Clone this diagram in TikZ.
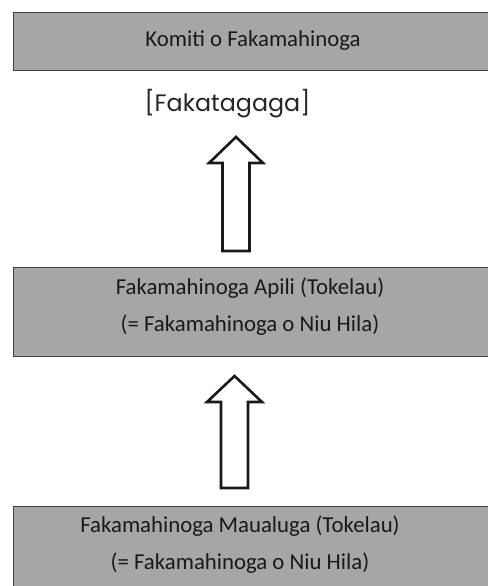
\documentclass[tikz,border=0pt]{standalone}
\usepackage{fontspec}
\setmainfont{Carlito}
\newfontfamily\geofont{Poppins}
\begin{document}
\begin{tikzpicture}[x=1pt,y=-1pt,
  box/.style={draw=black!75,line width=0.8pt,fill=black!35,inner sep=0pt},
  blockarrow/.style={draw=black!90,line width=2.6pt,fill=white,line join=miter},
  lbl/.style={font=\fontsize{22.8}{37}\selectfont,align=center,text=black!90}]
\useasboundingbox (0,0) rectangle (487,586);
\path[box] (13,12) rectangle (492,70);
\node[lbl] (top) at (253,41) {Komiti o Fakamahinoga};
\node[font=\geofont\fontsize{23.8}{26}\selectfont,text=black!85] (fk) at (227.5,104) {[Fakatagaga]};
\path[box] (13,267) rectangle (492,356);
\node[lbl] (mid) at (250,307) {Fakamahinoga Apili (Tokelau)\\(= Fakamahinoga o Niu Hila)};
\path[box] (13,506) rectangle (492,600);
\node[lbl] (bot) at (240,545) {Fakamahinoga Maualuga (Tokelau)\\(= Fakamahinoga o Niu Hila)};
\draw[blockarrow] (236,137) -- (263,163) -- (249.5,163) -- (249.5,251) -- (222.5,251) -- (222.5,163) -- (209,163) -- cycle;
\draw[blockarrow] (234.5,376) -- (262,402) -- (248,402) -- (248,488) -- (221,488) -- (221,402) -- (207,402) -- cycle;
\end{tikzpicture}
\end{document}
